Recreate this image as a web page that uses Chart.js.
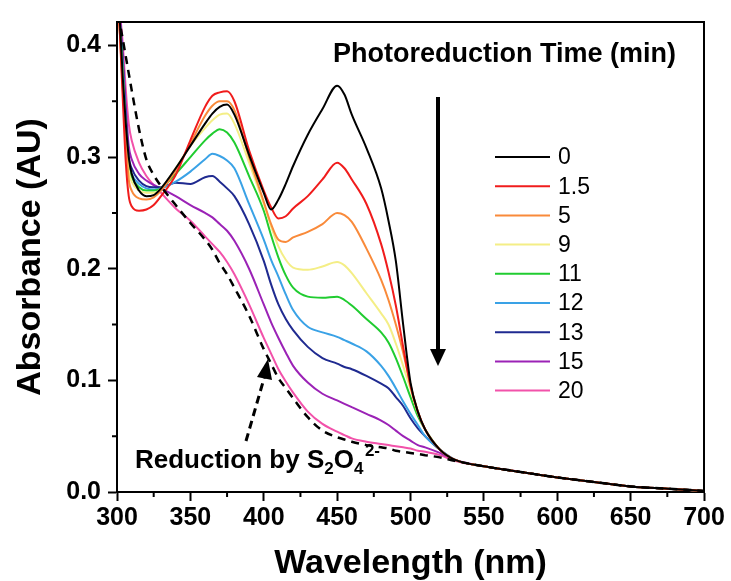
<!DOCTYPE html>
<html>
<head>
<meta charset="utf-8">
<script src="https://cdn.jsdelivr.net/npm/chart.js@4.4.1/dist/chart.umd.min.js"></script>
<style>
  html, body { margin: 0; padding: 0; background: #fff; }
  #myChart { display: block; }
</style>
</head>
<body>
<canvas id="myChart" width="731" height="581"></canvas>
<script>
//data block
const wavelengths = [300, 302, 304, 306, 308, 310, 315, 320, 325, 330, 340, 350, 360, 365, 370, 375, 380, 390, 400, 405,
  410, 415, 420, 430, 440, 450, 455, 460, 470, 480, 485, 490, 495, 500, 505, 510, 520, 530, 550, 575, 600, 625, 650, 675, 700];
const times = ['0', '1.5', '5', '9', '11', '12', '13', '15', '20'];

const abs0 = [0.47, 0.42, 0.37, 0.33, 0.30, 0.285, 0.27, 0.265, 0.266, 0.272, 0.29, 0.31, 0.33, 0.339, 0.345, 0.347, 0.338, 0.302, 0.268, 0.253,
  0.262, 0.276, 0.292, 0.32, 0.343, 0.364, 0.356, 0.338, 0.308, 0.272, 0.243, 0.207, 0.150, 0.098, 0.072, 0.056, 0.038, 0.029, 0.023, 0.018, 0.013, 0.009, 0.005, 0.003, 0.001];
const abs1_5 = [0.46, 0.41, 0.35, 0.295, 0.265, 0.256, 0.252, 0.253, 0.257, 0.265, 0.284, 0.315, 0.345, 0.355, 0.358, 0.359, 0.350, 0.306, 0.270, 0.255,
  0.245, 0.247, 0.254, 0.265, 0.280, 0.295, 0.290, 0.280, 0.258, 0.222, 0.197, 0.167, 0.130, 0.095, 0.072, 0.056, 0.038, 0.029, 0.023, 0.018, 0.013, 0.009, 0.005, 0.003, 0.001];
const abs5 = [0.46, 0.41, 0.36, 0.315, 0.28, 0.27, 0.263, 0.262, 0.264, 0.27, 0.288, 0.312, 0.337, 0.346, 0.350, 0.350, 0.342, 0.300, 0.260, 0.240,
  0.226, 0.224, 0.228, 0.233, 0.240, 0.250, 0.248, 0.242, 0.218, 0.190, 0.172, 0.150, 0.125, 0.096, 0.072, 0.056, 0.038, 0.029, 0.023, 0.018, 0.013, 0.009, 0.005, 0.003, 0.001];
const abs9 = [0.46, 0.41, 0.37, 0.32, 0.288, 0.278, 0.27, 0.268, 0.268, 0.272, 0.29, 0.31, 0.326, 0.333, 0.338, 0.339, 0.330, 0.295, 0.258, 0.238,
  0.220, 0.208, 0.201, 0.199, 0.202, 0.206, 0.203, 0.196, 0.178, 0.160, 0.150, 0.133, 0.113, 0.092, 0.071, 0.056, 0.038, 0.029, 0.023, 0.018, 0.013, 0.009, 0.005, 0.003, 0.001];
const abs11 = [0.46, 0.42, 0.375, 0.325, 0.292, 0.282, 0.273, 0.270, 0.270, 0.272, 0.285, 0.300, 0.315, 0.321, 0.325, 0.322, 0.313, 0.283, 0.252, 0.230,
  0.210, 0.194, 0.183, 0.175, 0.174, 0.175, 0.172, 0.167, 0.155, 0.143, 0.134, 0.120, 0.103, 0.085, 0.068, 0.056, 0.038, 0.029, 0.023, 0.018, 0.013, 0.009, 0.005, 0.003, 0.001];
const abs12 = [0.46, 0.42, 0.38, 0.33, 0.296, 0.285, 0.276, 0.272, 0.271, 0.272, 0.278, 0.287, 0.298, 0.303, 0.301, 0.297, 0.290, 0.258, 0.226, 0.208,
  0.193, 0.177, 0.163, 0.148, 0.143, 0.139, 0.136, 0.133, 0.126, 0.113, 0.104, 0.093, 0.081, 0.070, 0.060, 0.050, 0.038, 0.029, 0.023, 0.018, 0.013, 0.009, 0.005, 0.003, 0.001];
const abs13 = [0.46, 0.42, 0.385, 0.335, 0.300, 0.290, 0.279, 0.274, 0.273, 0.273, 0.277, 0.276, 0.282, 0.283, 0.278, 0.272, 0.265, 0.240, 0.207, 0.186,
  0.168, 0.155, 0.145, 0.130, 0.120, 0.115, 0.112, 0.110, 0.104, 0.097, 0.093, 0.085, 0.077, 0.066, 0.057, 0.050, 0.038, 0.029, 0.023, 0.018, 0.013, 0.009, 0.005, 0.003, 0.001];
const abs15 = [0.46, 0.43, 0.39, 0.345, 0.31, 0.298, 0.285, 0.279, 0.275, 0.272, 0.265, 0.257, 0.250, 0.246, 0.240, 0.234, 0.225, 0.200, 0.168, 0.152,
  0.138, 0.125, 0.113, 0.098, 0.088, 0.082, 0.079, 0.076, 0.070, 0.064, 0.060, 0.055, 0.050, 0.046, 0.042, 0.040, 0.035, 0.029, 0.023, 0.018, 0.013, 0.009, 0.005, 0.003, 0.001];
const abs20 = [0.46, 0.43, 0.40, 0.36, 0.33, 0.315, 0.295, 0.283, 0.275, 0.268, 0.254, 0.243, 0.229, 0.222, 0.215, 0.206, 0.195, 0.168, 0.138, 0.124,
  0.110, 0.099, 0.089, 0.072, 0.061, 0.054, 0.051, 0.048, 0.045, 0.043, 0.042, 0.041, 0.040, 0.039, 0.037, 0.036, 0.033, 0.028, 0.023, 0.018, 0.013, 0.009, 0.005, 0.003, 0.001];
const absDithionite = [0.44, 0.42, 0.405, 0.39, 0.375, 0.36, 0.325, 0.298, 0.284, 0.274, 0.257, 0.241, 0.226, 0.217, 0.205, 0.195, 0.183, 0.158, 0.128, 0.115,
  0.102, 0.093, 0.084, 0.067, 0.055, 0.049, 0.047, 0.045, 0.042, 0.040, 0.039, 0.037, 0.036, 0.035, 0.034, 0.033, 0.031, 0.028, 0.023, 0.018, 0.013, 0.009, 0.005, 0.003, 0.001];

const xTicksMinor = [325, 375, 425, 475, 525, 575, 625, 675];
const yTicksMinor = [0.05, 0.15, 0.25, 0.35];

//style block
const seriesValues = [abs0, abs1_5, abs5, abs9, abs11, abs12, abs13, abs15, abs20];
const lineColors = ['#000000', '#f01c1c', '#f98a3a', '#f4ee86', '#20cc30', '#3aa2e6', '#1f2a90', '#9b22b6', '#f252aa'];
const boldFont = '"Liberation Sans", Arial, sans-serif';

const toPoints = vals => vals.map((v, i) => ({x: wavelengths[i], y: v}));

const datasets = seriesValues.map((vals, i) => ({
  label: times[i],
  data: toPoints(vals),
  borderColor: lineColors[i],
  borderWidth: 2,
  pointRadius: 0,
  cubicInterpolationMode: 'monotone'
}));
datasets.unshift({
  label: 'S2O4',
  data: toPoints(absDithionite),
  borderColor: '#000000',
  borderWidth: 2.5,
  borderDash: [8, 6],
  pointRadius: 0,
  cubicInterpolationMode: 'monotone'
});

//annotation plugin
const extras = {
  id: 'extras',
  afterDraw(chart) {
    const {ctx, chartArea: {top, bottom, left, right}, scales: {x, y}} = chart;
    ctx.save();
    ctx.strokeStyle = '#000';
    ctx.lineWidth = 2;
    ctx.beginPath();
    ctx.moveTo(left - 1, top);
    ctx.lineTo(right, top);
    ctx.lineTo(right, bottom);
    ctx.stroke();

    // minor ticks
    ctx.beginPath();
    xTicksMinor.forEach(v => {
      const px = x.getPixelForValue(v);
      ctx.moveTo(px, bottom);
      ctx.lineTo(px, bottom + 5);
    });
    yTicksMinor.forEach(v => {
      const py = y.getPixelForValue(v);
      ctx.moveTo(left, py);
      ctx.lineTo(left - 5, py);
    });
    ctx.stroke();

    // legend
    ctx.font = `23px ${boldFont}`;
    ctx.textBaseline = 'middle';
    ctx.textAlign = 'left';
    times.forEach((t, i) => {
      const ly = 157 + i * 29.2;
      ctx.strokeStyle = lineColors[i];
      ctx.lineWidth = 2;
      ctx.beginPath();
      ctx.moveTo(495, ly);
      ctx.lineTo(550, ly);
      ctx.stroke();
      ctx.fillStyle = '#000';
      ctx.fillText(t, 558, ly + 1);
    });

    // legend title
    ctx.font = `bold 27px ${boldFont}`;
    ctx.textBaseline = 'alphabetic';
    ctx.fillText('Photoreduction Time (min)', 333, 62);

    // down arrow
    ctx.strokeStyle = '#000';
    ctx.fillStyle = '#000';
    ctx.lineWidth = 4;
    ctx.beginPath();
    ctx.moveTo(438, 97);
    ctx.lineTo(438, 352);
    ctx.stroke();
    ctx.beginPath();
    ctx.moveTo(430, 349);
    ctx.lineTo(446, 349);
    ctx.lineTo(438, 366);
    ctx.closePath();
    ctx.fill();

    // dashed arrow
    ctx.lineWidth = 3;
    ctx.setLineDash([8, 5]);
    ctx.beginPath();
    ctx.moveTo(246, 441);
    ctx.lineTo(265, 375);
    ctx.stroke();
    ctx.setLineDash([]);
    ctx.beginPath();
    ctx.moveTo(268, 359);
    ctx.lineTo(257, 377);
    ctx.lineTo(272, 380);
    ctx.closePath();
    ctx.fill();

    // reduction label with sub/superscripts
    let tx = 135;
    const base = 468;
    const put = (s, size, dy) => {
      ctx.font = `bold ${size}px ${boldFont}`;
      ctx.fillText(s, tx, base + dy);
      tx += ctx.measureText(s).width;
    };
    put('Reduction by S', 26, 0);
    put('2', 17, 6);
    put('O', 26, 0);
    const subX = tx;
    put('4', 17, 6);
    tx = subX + 11;
    put('2-', 17, -12);
    ctx.restore();
  }
};

//config block
const config = {
  type: 'line',
  data: { datasets },
  options: {
    responsive: false,
    animation: false,
    layout: { padding: { top: 17, right: 27, left: 0, bottom: 0 } },
    plugins: {
      legend: { display: false },
      tooltip: { enabled: false }
    },
    scales: {
      x: {
        type: 'linear',
        min: 300,
        max: 700,
        afterFit(scale) { scale.height = 89; },
        border: { color: '#000', width: 2 },
        grid: { drawOnChartArea: false, tickLength: 9, tickWidth: 2, color: '#000' },
        ticks: {
          stepSize: 50,
          padding: 2,
          color: '#000',
          font: { family: boldFont, size: 25, weight: 'bold' }
        },
        title: {
          display: true,
          text: 'Wavelength (nm)',
          color: '#000',
          padding: 0,
          font: { family: boldFont, size: 34, weight: 'bold', lineHeight: 1.05 }
        }
      },
      y: {
        type: 'linear',
        min: 0,
        max: 0.421,
        afterFit(scale) { scale.width = 117; },
        border: { color: '#000', width: 2 },
        grid: { drawOnChartArea: false, tickLength: 9, tickWidth: 2, color: '#000' },
        ticks: {
          stepSize: 0.1,
          includeBounds: false,
          padding: 7,
          color: '#000',
          font: { family: boldFont, size: 25, weight: 'bold' },
          callback: v => v.toFixed(1)
        },
        title: {
          display: true,
          text: 'Absorbance (AU)',
          color: '#000',
          padding: { top: 10, bottom: 0 },
          font: { family: boldFont, size: 34, weight: 'bold', lineHeight: 1.2 }
        }
      }
    }
  },
  plugins: [extras]
};

//render block
const myChart = new Chart(
  document.getElementById('myChart'),
  config
);
</script>
</body>
</html>
